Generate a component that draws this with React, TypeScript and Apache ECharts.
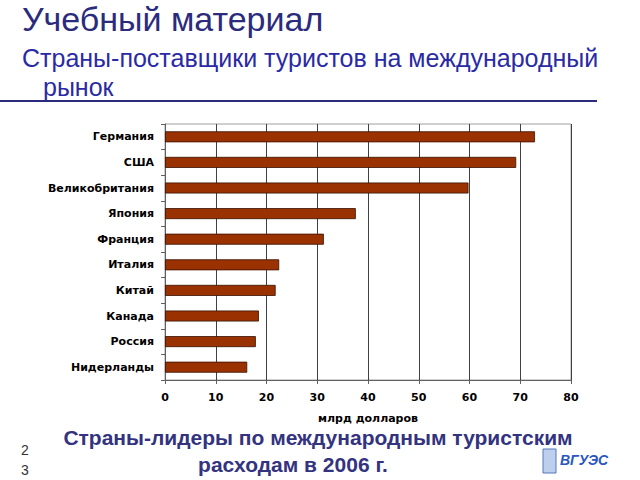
import React, { useEffect, useRef } from "react";
import * as echarts from "echarts";

const countries = ["Германия", "США", "Великобритания", "Япония", "Франция", "Италия", "Китай", "Канада", "Россия", "Нидерланды"];
const spending = [72.9, 69.2, 59.8, 37.6, 31.3, 22.5, 21.8, 18.5, 17.9, 16.2];
const xTicks = [0, 10, 20, 30, 40, 50, 60, 70, 80];

const titleText = "Учебный материал";
const subtitle1 = "Страны-поставщики туристов на международный";
const subtitle2 = "рынок";
const caption1 = "Страны-лидеры по международным туристским";
const caption2 = "расходам в 2006 г.";
const axisName = "млрд долларов";

export default function App() {
  const ref = useRef<HTMLDivElement>(null);
  useEffect(() => {
    const chart = echarts.init(ref.current!, null, { renderer: "svg" });
    const font = "'Liberation Sans', Arial, sans-serif";
    const axFont = "'DejaVu Sans', sans-serif";
    chart.setOption({
      animation: false,
      backgroundColor: "#ffffff",
      grid: { left: 165, right: 69, top: 124, bottom: 100, containLabel: false, show: true, borderColor: "#a0a0a0", borderWidth: 1 },
      xAxis: {
        type: "value",
        min: xTicks[0],
        max: xTicks[xTicks.length - 1],
        interval: 10,
        name: axisName,
        nameLocation: "middle",
        nameGap: 33,
        nameTextStyle: { fontFamily: axFont, fontSize: 11, fontWeight: "bold", color: "#000" },
        axisLine: { show: true, lineStyle: { color: "#606060" } },
        axisTick: { show: true, length: 4, lineStyle: { color: "#606060" } },
        axisLabel: { fontFamily: axFont, fontSize: 11, fontWeight: "bold", color: "#000", margin: 12 },
        splitLine: { show: true, lineStyle: { color: "#404040", width: 1 } },
      },
      yAxis: {
        type: "category",
        inverse: true,
        data: countries,
        axisLine: { show: true, lineStyle: { color: "#606060" } },
        axisTick: { show: true, length: 4, lineStyle: { color: "#606060" } },
        axisLabel: { fontFamily: axFont, fontSize: 11, fontWeight: "bold", color: "#000", margin: 11 },
        splitLine: { show: false },
      },
      series: [
        {
          type: "bar",
          data: spending,
          barWidth: 11,
          itemStyle: { color: "#9a3100", borderColor: "#3a1000", borderWidth: 0.8 },
        },
      ],
      graphic: [
        { type: "text", left: 22, top: 2, style: { text: titleText, font: `34px ${font}`, fill: "#2b2b7e" } },
        { type: "text", left: 22, top: 45, style: { text: subtitle1, font: `25px ${font}`, fill: "#2a2aa5" } },
        { type: "text", left: 43, top: 74, style: { text: subtitle2, font: `25px ${font}`, fill: "#2a2aa5" } },
        { type: "rect", shape: { x: 0, y: 100, width: 597, height: 2 }, style: { fill: "#2b2b7e" } },
        { type: "text", x: 318, y: 427, style: { text: caption1, font: `bold 21px ${font}`, fill: "#33337f", textAlign: "center" } },
        { type: "text", x: 293, y: 454, style: { text: caption2, font: `bold 21px ${font}`, fill: "#33337f", textAlign: "center" } },
        { type: "text", x: 21, y: 443, style: { text: "2", font: `14px ${font}`, fill: "#333" } },
        { type: "text", x: 21, y: 463, style: { text: "3", font: `14px ${font}`, fill: "#333" } },
        { type: "rect", shape: { x: 543, y: 449, width: 13, height: 24 }, style: { fill: "#bcd0ee", stroke: "#5577bb", lineWidth: 1 } },
        { type: "text", x: 560, y: 453, style: { text: "ВГУЭС", font: `italic bold 14px ${font}`, fill: "#2a56c0" } },
      ],
    });
    return () => chart.dispose();
  }, []);
  return <div ref={ref} style={{ position: "fixed", left: 0, top: 0, width: 640, height: 480 }} />;
}
